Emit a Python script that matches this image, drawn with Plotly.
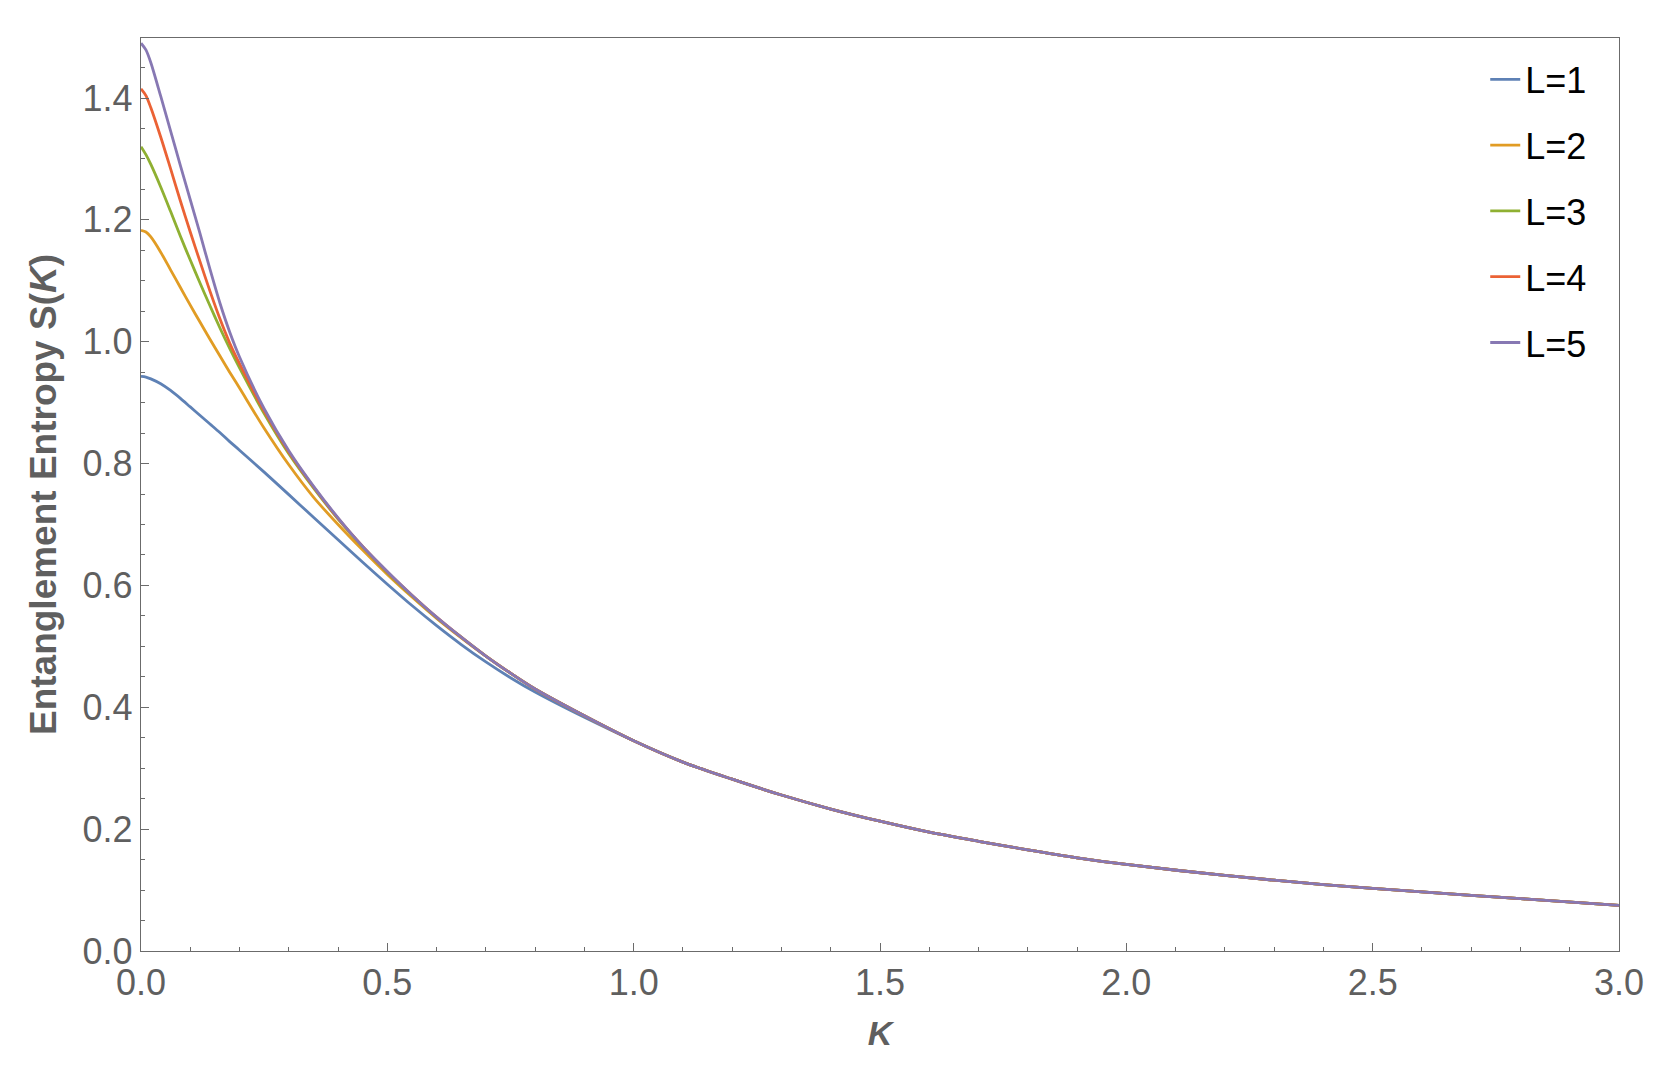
import plotly.graph_objects as go

# ---- data ----
K = [0, 0.01, 0.02, 0.04, 0.06, 0.08, 0.10, 0.12, 0.14, 0.16, 0.18, 0.20,
     0.25, 0.30, 0.35, 0.40, 0.45, 0.50, 0.55, 0.60, 0.65, 0.70, 0.75, 0.80,
     0.90, 1.00,
     1.10, 1.20, 1.30, 1.40, 1.50, 1.60, 1.70, 1.80, 1.90, 2.00, 2.20, 2.40,
     2.60, 2.80, 3.00]

tail = [0.310, 0.282, 0.256, 0.233, 0.213, 0.195, 0.180, 0.166, 0.153, 0.142,
        0.124, 0.109, 0.097, 0.086, 0.075]

S_L1 = [0.943, 0.942, 0.939, 0.931, 0.920, 0.907, 0.893, 0.879, 0.865, 0.851,
        0.836, 0.822, 0.786, 0.749, 0.712, 0.675, 0.638, 0.602, 0.567, 0.534,
        0.503, 0.4745, 0.4485, 0.425, 0.3835, 0.345] + tail
S_L2 = [1.183, 1.180, 1.172, 1.147, 1.118, 1.089, 1.060, 1.032, 1.004, 0.977,
        0.950, 0.924, 0.858, 0.798, 0.745, 0.700, 0.658, 0.618, 0.581, 0.546,
        0.514, 0.484, 0.456, 0.430, 0.386, 0.345] + tail
S_L3 = [1.320, 1.307, 1.291, 1.254, 1.214, 1.173, 1.134, 1.096, 1.059, 1.023,
        0.989, 0.957, 0.882, 0.816, 0.760, 0.709, 0.663, 0.621, 0.583, 0.547,
        0.515, 0.484, 0.456, 0.430, 0.386, 0.345] + tail
S_L4 = [1.415, 1.404, 1.384, 1.336, 1.284, 1.231, 1.180, 1.131, 1.083, 1.038,
        0.998, 0.964, 0.886, 0.819, 0.762, 0.710, 0.664, 0.622, 0.584, 0.548,
        0.515, 0.484, 0.456, 0.430, 0.386, 0.345] + tail
S_L5 = [1.490, 1.479, 1.458, 1.403, 1.346, 1.289, 1.233, 1.177, 1.119, 1.064,
        1.016, 0.975, 0.890, 0.821, 0.763, 0.711, 0.664, 0.623, 0.584, 0.548,
        0.515, 0.484, 0.456, 0.430, 0.386, 0.345] + tail

names = ["L=1", "L=2", "L=3", "L=4", "L=5"]
series = [S_L1, S_L2, S_L3, S_L4, S_L5]
colors = ["#5E81B5", "#E19C24", "#8FB032", "#EB6235", "#8778B3"]

x_ticks = [0.0, 0.5, 1.0, 1.5, 2.0, 2.5, 3.0]
y_ticks = [0.0, 0.2, 0.4, 0.6, 0.8, 1.0, 1.2, 1.4]

FONT = "Liberation Sans, Arial, sans-serif"
AX = "#6b6b6b"
LBL = "#5f5f5f"

fig = go.Figure()
for nm, s, c in zip(names, series, colors):
    fig.add_trace(go.Scatter(
        x=K, y=s, mode="lines", name=nm, legendgroup=nm,
        line=dict(color=c, width=2.8, shape="spline", smoothing=0.8),
    ))

# page body has an 8px margin, so the figure is sized to sit inside the window
fig.update_layout(
    width=1648, height=1056,
    margin=dict(l=133, r=35, t=30, b=113),
    paper_bgcolor="white", plot_bgcolor="white",
    font=dict(family=FONT, size=36, color=LBL),
    showlegend=True,
    legend=dict(
        x=0.9095, y=0.9875, xanchor="left", yanchor="top",
        font=dict(family=FONT, size=36, color="black"),
        bgcolor="rgba(0,0,0,0)", tracegroupgap=16,
    ),
)

fig.update_xaxes(
    range=[0, 3], tickvals=x_ticks, ticktext=[f"{v:.1f}" for v in x_ticks],
    showgrid=False, zeroline=False,
    showline=True, linecolor=AX, linewidth=1.3, mirror=True,
    ticks="inside", ticklen=8, tickwidth=1, tickcolor=AX,
    minor=dict(dtick=0.1, tick0=0, ticks="inside", ticklen=4, tickcolor=AX, showgrid=False),
    tickfont=dict(family=FONT, size=36, color=LBL),
    title=dict(text="<b><i>K</i></b>", font=dict(family=FONT, size=34, color=LBL), standoff=18),
)
fig.update_yaxes(
    range=[0, 1.4985], tickvals=y_ticks, ticktext=[f"{v:.1f}" for v in y_ticks],
    showgrid=False, zeroline=False,
    showline=True, linecolor=AX, linewidth=1.3, mirror=True,
    ticks="inside", ticklen=8, tickwidth=1, tickcolor=AX,
    minor=dict(dtick=0.05, tick0=0, ticks="inside", ticklen=4, tickcolor=AX, showgrid=False),
    tickfont=dict(family=FONT, size=36, color=LBL),
    title=dict(text="<b>Entanglement Entropy S(<i>K</i>)</b>",
               font=dict(family=FONT, size=37, color=LBL), standoff=14),
)

fig.write_html("out.html")
